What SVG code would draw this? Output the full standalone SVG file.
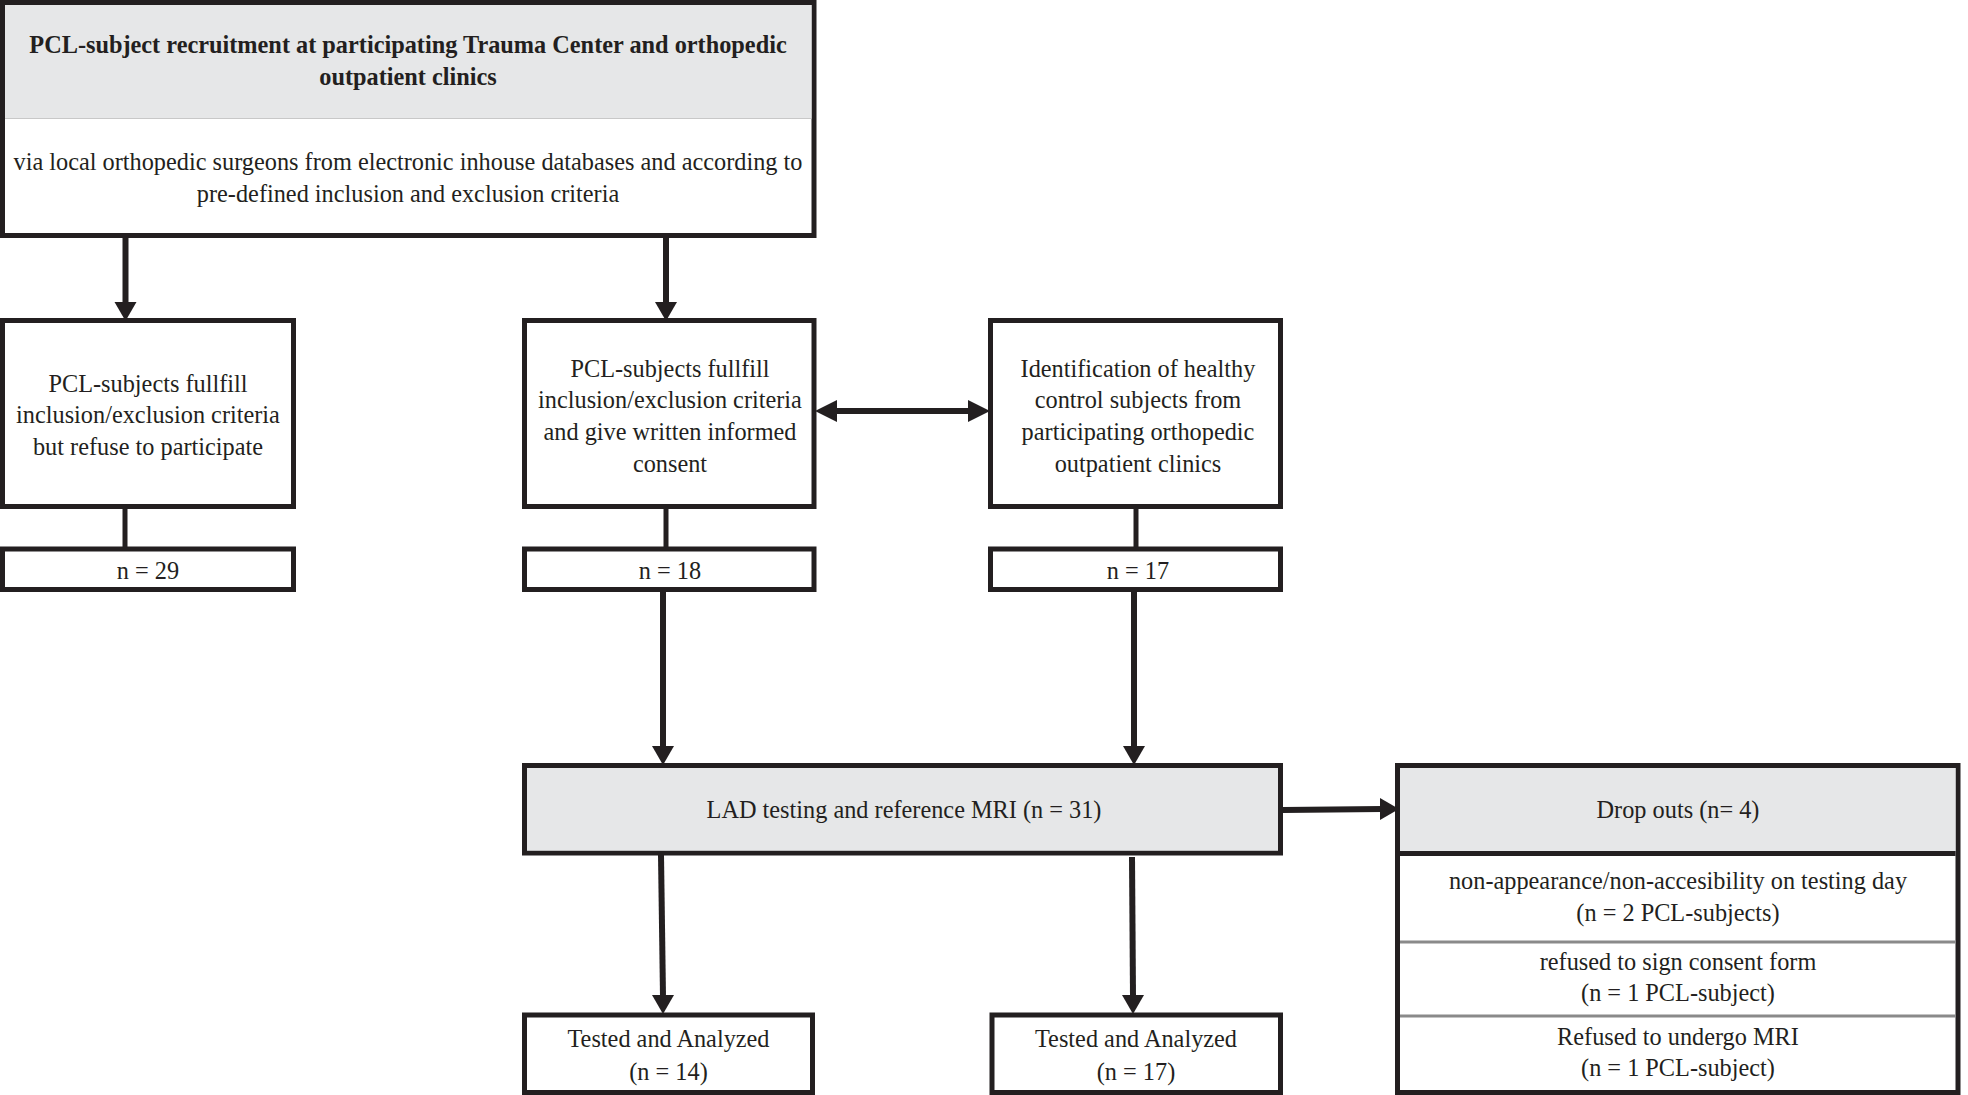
<svg xmlns="http://www.w3.org/2000/svg" width="1968" height="1095" viewBox="0 0 1968 1095">
<style>
  .box { fill: #ffffff; stroke: #231f20; stroke-width: 5; }
  .hdr { fill: #e6e7e8; stroke: none; }
  .t { font-family: "Liberation Serif", "Times New Roman", serif; font-size: 24.3px; fill: #231f20; text-anchor: middle; }
  .b { font-weight: bold; }
  .ln { stroke: #231f20; stroke-width: 6; fill: none; }
  .thin { stroke: #231f20; stroke-width: 5; fill: none; }
  .ah { fill: #231f20; }
  .sep { stroke: #8a8a8a; stroke-width: 3; }
</style>
<rect width="1968" height="1095" fill="#ffffff"/>

<g id="recruitment">
  <rect class="box" x="2.5" y="2.5" width="811.5" height="233"/>
  <rect class="hdr" x="5" y="5" width="806.5" height="113"/>
  <line x1="5" y1="118.5" x2="811.5" y2="118.5" stroke="#c8c8c8" stroke-width="1"/>
  <text class="t b" x="408" y="53">PCL-subject recruitment at participating Trauma Center and orthopedic</text>
  <text class="t b" x="408" y="85">outpatient clinics</text>
  <text class="t" x="408" y="170">via local orthopedic surgeons from electronic inhouse databases and according to</text>
  <text class="t" x="408" y="202">pre-defined inclusion and exclusion criteria</text>
</g>

<g id="refuse">
  <rect class="box" x="2.5" y="320.5" width="291" height="186"/>
  <text class="t" x="148" y="392">PCL-subjects fullfill</text>
  <text class="t" x="148" y="423">inclusion/exclusion criteria</text>
  <text class="t" x="148" y="455">but refuse to participate</text>
</g>

<g id="n29">
  <rect class="box" x="2.5" y="549" width="291" height="40.5"/>
  <text class="t" x="148" y="579">n = 29</text>
</g>

<g id="consent">
  <rect class="box" x="524.5" y="320.5" width="289.5" height="186"/>
  <text class="t" x="670" y="377">PCL-subjects fullfill</text>
  <text class="t" x="670" y="408">inclusion/exclusion criteria</text>
  <text class="t" x="670" y="440">and give written informed</text>
  <text class="t" x="670" y="472">consent</text>
</g>

<g id="n18">
  <rect class="box" x="524.5" y="549" width="289.5" height="40.5"/>
  <text class="t" x="670" y="579">n = 18</text>
</g>

<g id="controls">
  <rect class="box" x="990.5" y="320.5" width="290" height="186"/>
  <text class="t" x="1138" y="377">Identification of healthy</text>
  <text class="t" x="1138" y="408">control subjects from</text>
  <text class="t" x="1138" y="440">participating orthopedic</text>
  <text class="t" x="1138" y="472">outpatient clinics</text>
</g>

<g id="n17">
  <rect class="box" x="990.5" y="549" width="290" height="40.5"/>
  <text class="t" x="1138" y="579">n = 17</text>
</g>

<g id="lad">
  <rect class="box" x="524.5" y="765.5" width="756" height="87.5"/>
  <rect class="hdr" x="527" y="768" width="751" height="82.5"/>
  <text class="t" x="904" y="818">LAD testing and reference MRI (n = 31)</text>
</g>

<g id="tested-pcl">
  <rect class="box" x="524.5" y="1015" width="288" height="77.5"/>
  <text class="t" x="668.5" y="1047">Tested and Analyzed</text>
  <text class="t" x="668.5" y="1080">(n = 14)</text>
</g>

<g id="tested-control">
  <rect class="box" x="992" y="1015" width="288.5" height="77.5"/>
  <text class="t" x="1136" y="1047">Tested and Analyzed</text>
  <text class="t" x="1136" y="1080">(n = 17)</text>
</g>

<g id="dropouts">
  <rect class="box" x="1397.5" y="765.5" width="560.5" height="327"/>
  <rect class="hdr" x="1400" y="768" width="555.5" height="83"/>
  <line x1="1400" y1="853.5" x2="1955.5" y2="853.5" stroke="#231f20" stroke-width="5"/>
  <line class="sep" x1="1400" y1="942" x2="1955.5" y2="942"/>
  <line class="sep" x1="1400" y1="1016" x2="1955.5" y2="1016"/>
  <text class="t" x="1678" y="818">Drop outs (n= 4)</text>
  <text class="t" x="1678" y="889">non-appearance/non-accesibility on testing day</text>
  <text class="t" x="1678" y="921">(n = 2 PCL-subjects)</text>
  <text class="t" x="1678" y="970">refused to sign consent form</text>
  <text class="t" x="1678" y="1001">(n = 1 PCL-subject)</text>
  <text class="t" x="1678" y="1045">Refused to undergo MRI</text>
  <text class="t" x="1678" y="1076">(n = 1 PCL-subject)</text>
</g>

<g id="connectors">
  <line class="ln" x1="125.5" y1="238" x2="125.5" y2="304"/>
  <polygon class="ah" points="114.5,302 136.5,302 125.5,321"/>
  <line class="ln" x1="666" y1="238" x2="666" y2="304"/>
  <polygon class="ah" points="655,302 677,302 666,321"/>

  <line class="thin" x1="125" y1="509" x2="125" y2="547"/>
  <line class="thin" x1="666" y1="509" x2="666" y2="547"/>
  <line class="thin" x1="1136" y1="509" x2="1136" y2="547"/>

  <line class="ln" x1="834" y1="411" x2="972" y2="411"/>
  <polygon class="ah" points="815,411 837,400 837,422"/>
  <polygon class="ah" points="990,411 968,400 968,422"/>

  <line class="ln" x1="663" y1="592" x2="663" y2="748"/>
  <polygon class="ah" points="652,746 674,746 663,765"/>
  <line class="ln" x1="1134" y1="592" x2="1134" y2="748"/>
  <polygon class="ah" points="1123,746 1145,746 1134,765"/>

  <line class="ln" x1="1283" y1="810" x2="1382" y2="809"/>
  <polygon class="ah" points="1380,798 1380,820 1399,809"/>

  <line class="ln" x1="661" y1="855" x2="663" y2="997"/>
  <polygon class="ah" points="652,995 674,995 663,1014"/>
  <line class="ln" x1="1132" y1="857" x2="1133" y2="997"/>
  <polygon class="ah" points="1122,995 1144,995 1133,1014"/>
</g>
</svg>
